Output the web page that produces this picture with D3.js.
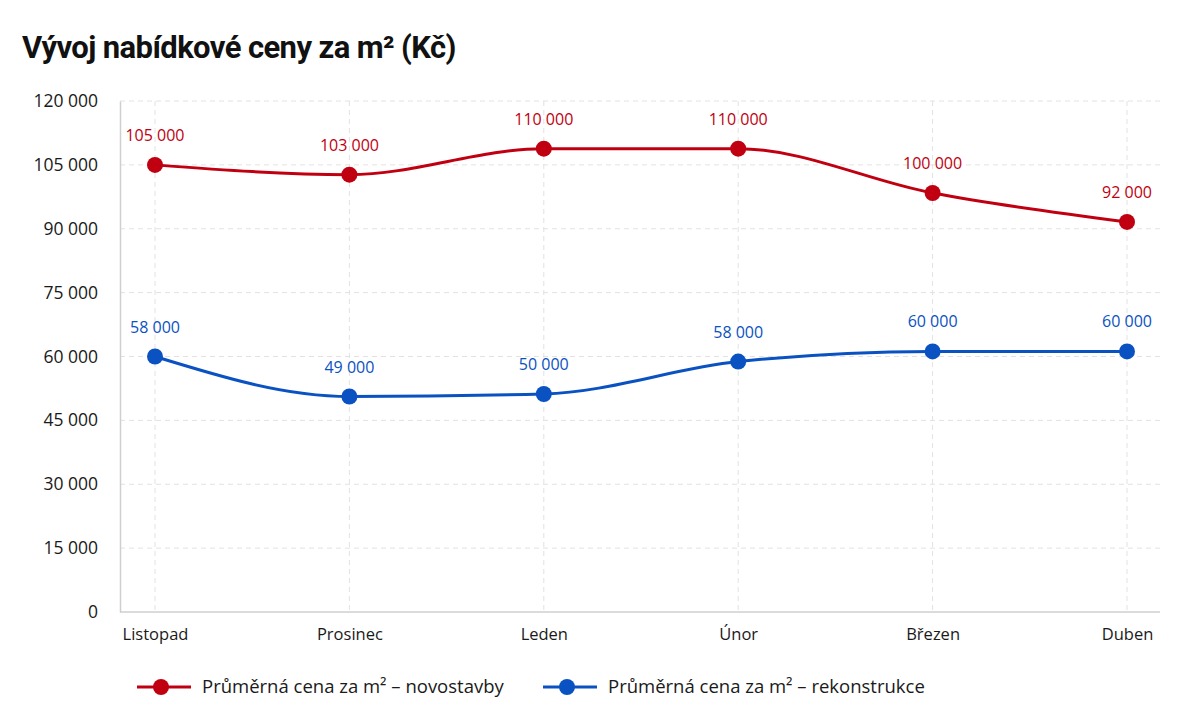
<!DOCTYPE html>
<html>
<head>
<meta charset="utf-8">
<script src="https://cdn.jsdelivr.net/npm/d3@7"></script>
<style>
  body { margin: 0; background: #fff; }
  svg text { font-family: "Open Sans", "Noto Sans", sans-serif; }
</style>
</head>
<body>
<div id="chart"></div>
<script>
// data
const months = ["Listopad", "Prosinec", "Leden", "Únor", "Březen", "Duben"];
const novostavby = [105000, 102700, 108800, 108800, 98400, 91600];
const rekonstrukce = [60000, 50600, 51200, 58800, 61200, 61200];
const novostavbyLabels = ["105 000", "103 000", "110 000", "110 000", "100 000", "92 000"];
const rekonstrukceLabels = ["58 000", "49 000", "50 000", "58 000", "60 000", "60 000"];
const yTicks = [0, 15000, 30000, 45000, 60000, 75000, 90000, 105000, 120000];
const seriesNames = ["Průměrná cena za m² – novostavby", "Průměrná cena za m² – rekonstrukce"];

let w = 1200;
let h = 719;
const red = "#c00010";
const blue = "#0a52c2";

const locale = d3.formatLocale({ decimal: ",", thousands: " ", grouping: [3], currency: ["", " Kč"] });
const fmt = locale.format(",d");

let svg = d3.select("#chart").append("svg")
    .attr("width", w)
    .attr("height", h);

// title
svg.append("text")
    .attr("x", 22).attr("y", 58)
    .style("font-family", "Roboto, sans-serif")
    .style("font-weight", "bold")
    .style("font-size", "31px")
    .style("letter-spacing", "-0.6px")
    .attr("fill", "#111")
    .text("Vývoj nabídkové ceny za m² (Kč)");

let x = d3.scalePoint().domain(months).range([155, 1127]);
let y = d3.scaleLinear().domain([0, 120000]).range([612, 101]);

// grid
svg.append("g").selectAll("line")
    .data(yTicks.filter(d => d > 0))
    .join("line")
    .attr("x1", 120).attr("x2", 1160)
    .attr("y1", d => y(d)).attr("y2", d => y(d))
    .attr("stroke", "#e2e2e2").attr("stroke-dasharray", "5,4");
svg.append("g").selectAll("line")
    .data(months)
    .join("line")
    .attr("x1", d => x(d)).attr("x2", d => x(d))
    .attr("y1", 101).attr("y2", 612)
    .attr("stroke", "#e2e2e2").attr("stroke-dasharray", "5,4");

// axes
const yAxis = svg.append("g")
    .attr("transform", "translate(120,0)")
    .call(d3.axisLeft(y).tickValues(yTicks).tickFormat(fmt).tickSize(0).tickPadding(22));
yAxis.select(".domain").attr("stroke", "#cfcfcf").attr("stroke-width", 1.5);
yAxis.selectAll("text").style("font-size", "17.5px").attr("fill", "#1a1a1a");

const xAxis = svg.append("g")
    .attr("transform", "translate(0,612)")
    .call(d3.axisBottom(x).tickSize(0).tickPadding(16));
xAxis.select(".domain").attr("d", "M120,0H1160").attr("stroke", "#cfcfcf").attr("stroke-width", 1.5);
xAxis.selectAll("text").style("font-size", "16.5px").attr("fill", "#1a1a1a");

// lines
const line = d3.line()
    .x((d, i) => x(months[i]))
    .y(d => y(d))
    .curve(d3.curveMonotoneX);

const series = [
  { values: novostavby, labels: novostavbyLabels, color: red },
  { values: rekonstrukce, labels: rekonstrukceLabels, color: blue }
];

series.forEach(s => {
  svg.append("path")
      .datum(s.values)
      .attr("d", line)
      .attr("fill", "none")
      .attr("stroke", s.color)
      .attr("stroke-width", 3);
  svg.append("g").selectAll("circle")
      .data(s.values)
      .join("circle")
      .attr("cx", (d, i) => x(months[i]))
      .attr("cy", d => y(d))
      .attr("r", 8)
      .attr("fill", s.color);
  svg.append("g").selectAll("text")
      .data(s.values)
      .join("text")
      .attr("x", (d, i) => x(months[i]))
      .attr("y", d => y(d) - 24)
      .attr("text-anchor", "middle")
      .style("font-size", "16px")
      .attr("fill", s.color)
      .text((d, i) => s.labels[i]);
});

// legend
const legend = svg.append("g").attr("transform", "translate(0,687)");
const legendX = [137, 543];
seriesNames.forEach((name, i) => {
  const g = legend.append("g").attr("transform", `translate(${legendX[i]},0)`);
  g.append("line").attr("x1", 0).attr("x2", 54).attr("stroke", series[i].color).attr("stroke-width", 3);
  g.append("circle").attr("cx", 24).attr("r", 8).attr("fill", series[i].color);
  g.append("text").attr("x", 65).attr("dy", "0.35em")
      .style("font-size", "18.5px").attr("fill", "#1a1a1a").text(name);
});
</script>
</body>
</html>
